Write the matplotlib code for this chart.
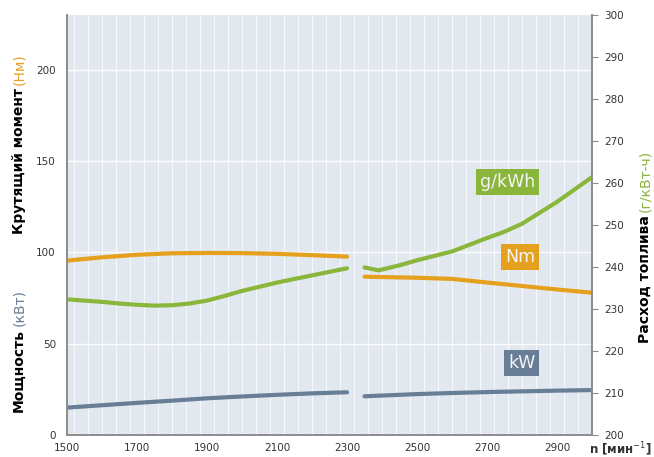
import matplotlib.pyplot as plt
import matplotlib.ticker as ticker

# частота вращения, два участка (разрыв между 2300 и 2350)
rpm_a = [1500, 1600, 1700, 1800, 1900, 2000, 2100, 2200, 2300]
rpm_b = [2350, 2400, 2500, 2600, 2700, 2800, 2900, 3000]
rpm_fuel_a = [1500, 1600, 1650, 1700, 1750, 1800, 1850, 1900, 1950, 2000, 2100, 2200, 2300]
rpm_fuel_b = [2350, 2390, 2450, 2500, 2600, 2700, 2750, 2800, 2900, 3000]

torque_a = [95.5, 97.3, 98.7, 99.5, 99.7, 99.6, 99.2, 98.5, 97.7]
torque_b = [86.7, 86.5, 86.1, 85.5, 83.5, 81.6, 79.7, 77.9]

power_a = [15.0, 16.3, 17.6, 18.8, 20.1, 21.1, 22.0, 22.8, 23.4]
power_b = [21.2, 21.6, 22.4, 23.0, 23.5, 23.9, 24.3, 24.6]

fuel_a = [232.3, 231.7, 231.3, 231.0, 230.8, 230.9, 231.3, 232.0, 233.1, 234.3, 236.3, 238.0, 239.7]
fuel_b = [239.9, 239.2, 240.4, 241.6, 243.7, 246.9, 248.4, 250.3, 255.5, 261.4]

x_ticks = [1500, 1700, 1900, 2100, 2300, 2500, 2700, 2900]

c_torque = "#E5A11E"
c_power = "#687D96"
c_fuel = "#8AB63C"
c_axis = "#8C8C8C"
c_text = "#333333"

fig = plt.figure(figsize=(6.54, 4.57), dpi=100)
ax = fig.add_axes([67 / 654, 22 / 457, 525 / 654, 420 / 457])
ax2 = ax.twinx()

ax.set_facecolor("#E2E8F0")
ax.set_xlim(1500, 3000)
ax.set_ylim(0, 230)
ax2.set_ylim(200, 300)

ax.plot(rpm_a, torque_a, color=c_torque, lw=3, solid_capstyle='round')
ax.plot(rpm_b, torque_b, color=c_torque, lw=3, solid_capstyle='round')
ax.plot(rpm_a, power_a, color=c_power, lw=3, solid_capstyle='round')
ax.plot(rpm_b, power_b, color=c_power, lw=3, solid_capstyle='round')
ax2.plot(rpm_fuel_a, fuel_a, color=c_fuel, lw=3, solid_capstyle='round')
ax2.plot(rpm_fuel_b, fuel_b, color=c_fuel, lw=3, solid_capstyle='round')

# сетка
ax.set_xticks(x_ticks)
ax.xaxis.set_minor_locator(ticker.MultipleLocator(40))
ax.set_yticks([0, 50, 100, 150, 200])
ax.grid(which='major', axis='y', color='white', lw=1.0, alpha=0.9)
ax.grid(which='minor', axis='x', color='white', lw=0.8, alpha=0.75)
ax.set_axisbelow(True)

for a in (ax, ax2):
    a.spines['top'].set_visible(False)
    for s in ('left', 'bottom', 'right'):
        a.spines[s].set_color(c_axis)
        a.spines[s].set_linewidth(1.2)

ax.tick_params(axis='both', which='both', length=0, labelsize=7.5, colors=c_text, pad=8)
ax.tick_params(axis='x', pad=6)
ax2.set_yticks(range(200, 301, 10))
ax2.tick_params(axis='y', length=4, color=c_axis, labelsize=7.5, labelcolor=c_text, pad=5)

# подписи серий
box_kw = dict(ha='right', va='center', color="#F4F4F4", fontsize=12.5)
ax.text(2838, 138.5, "g/kWh", bbox=dict(facecolor=c_fuel, edgecolor='none',
        boxstyle='square,pad=0.22'), **box_kw)
ax.text(2838, 97.5, "Nm", bbox=dict(facecolor=c_torque, edgecolor='none',
        boxstyle='square,pad=0.22'), **box_kw)
ax.text(2838, 39.5, "kW", bbox=dict(facecolor=c_power, edgecolor='none',
        boxstyle='square,pad=0.22'), **box_kw)

# подписи осей (двухцветные)
def two_color_label(x, y, left, right, color):
    fig.text(x / 654, 1 - y / 457, left, rotation=90, rotation_mode='anchor',
             ha='right', va='center', fontsize=10, fontweight='bold', color='black')
    fig.text(x / 654, 1 - (y - 3) / 457, right, rotation=90, rotation_mode='anchor',
             ha='left', va='center', fontsize=10, color=color)

two_color_label(19, 88, "Крутящий момент", "(Нм)", c_torque)
two_color_label(19, 329, "Мощность", "(кВт)", c_power)
two_color_label(645, 215, "Расход топлива", "(г/кВт-ч)", c_fuel)

fig.text(620 / 654, 1 - 449 / 457, "n [мин$^{-1}$]", ha='center', va='center',
         fontsize=8.5, fontweight='bold', color=c_text)

fig.savefig("out.png", dpi=100)
